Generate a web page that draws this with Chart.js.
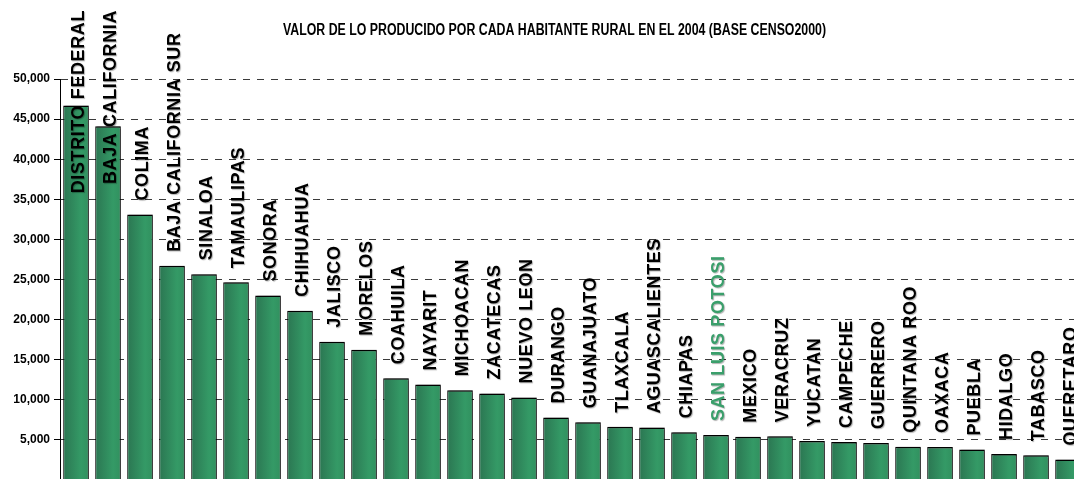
<!DOCTYPE html>
<html>
<head>
<meta charset="utf-8">
<script src="https://cdn.jsdelivr.net/npm/chart.js@4/dist/chart.umd.min.js"></script>
<style>
  html, body { margin: 0; padding: 0; background: #fff; overflow: hidden; }
  #wrap { width: 1090px; height: 500px; }
</style>
</head>
<body>
<div id="wrap"><canvas id="plot" width="1090" height="500"></canvas></div>
<script>
const chartTitle = 'VALOR DE LO PRODUCIDO POR CADA HABITANTE RURAL EN EL 2004 (BASE CENSO2000)';

const states = [
    'DISTRITO FEDERAL', 'BAJA CALIFORNIA', 'COLIMA', 'BAJA CALIFORNIA SUR', 'SINALOA',
    'TAMAULIPAS', 'SONORA', 'CHIHUAHUA', 'JALISCO', 'MORELOS', 'COAHUILA', 'NAYARIT',
    'MICHOACAN', 'ZACATECAS', 'NUEVO LEON', 'DURANGO', 'GUANAJUATO', 'TLAXCALA',
    'AGUASCALIENTES', 'CHIAPAS', 'SAN LUIS POTOSI', 'MEXICO', 'VERACRUZ', 'YUCATAN',
    'CAMPECHE', 'GUERRERO', 'QUINTANA ROO', 'OAXACA', 'PUEBLA', 'HIDALGO', 'TABASCO',
    'QUERETARO'
];

const valuePerHab = [
    46700, 44100, 33100, 26700, 25650,
    24650, 23000, 21100, 17250, 16250, 12700, 11900,
    11200, 10800, 10300, 7800, 7200, 6650,
    6550, 5950, 5600, 5400, 5450, 4850,
    4750, 4600, 4150, 4100, 3800, 3250, 3100,
    2550
];

const highlighted = 'SAN LUIS POTOSI';

const yMin = 0;
const yMax = 50000;
const yStep = 5000;

function barFill(c) {
    const chart = c.chart;
    const xs = chart.scales.x;
    if (!chart.chartArea || !xs || c.dataIndex === undefined) return '#2e8b57';
    const cx = xs.getPixelForValue(c.dataIndex);
    const half = (xs.width / states.length) * 0.4;
    const g = chart.ctx.createLinearGradient(cx - half, 0, cx + half, 0);
    g.addColorStop(0, '#2b7652');
    g.addColorStop(0.7, '#349a66');
    g.addColorStop(1, '#31905f');
    return g;
}

// drop shadow on the right side of each bar
const barShadow = {
    id: 'barShadow',
    beforeDatasetDraw(chart) {
        const ctx = chart.ctx;
        ctx.save();
        ctx.shadowColor = 'rgba(0,0,0,0.4)';
        ctx.shadowOffsetX = 2;
        ctx.shadowOffsetY = 0;
        ctx.shadowBlur = 1;
    },
    afterDatasetDraw(chart) {
        chart.ctx.restore();
    }
};

// state names standing vertically above each bar
const stateLabels = {
    id: 'stateLabels',
    afterDatasetsDraw(chart) {
        const ctx = chart.ctx;
        const meta = chart.getDatasetMeta(0);
        ctx.save();
        ctx.font = 'bold 18px "Liberation Sans", Arial, sans-serif';
        ctx.letterSpacing = '0.6px';
        ctx.textAlign = 'left';
        ctx.textBaseline = 'middle';
        ctx.shadowColor = 'rgba(0,0,0,0.3)';
        ctx.shadowOffsetX = 1;
        ctx.shadowOffsetY = 1;
        ctx.shadowBlur = 1;
        meta.data.forEach((bar, i) => {
            const name = states[i];
            const w = ctx.measureText(name).width;
            let start = bar.y - 14;
            if (start - w < 10) start = 10 + w;
            ctx.save();
            ctx.translate(bar.x + 3, start);
            ctx.rotate(-Math.PI / 2);
            ctx.fillStyle = name === highlighted ? '#3a9f6b' : '#000';
            ctx.fillText(name, 0, 0);
            ctx.restore();
        });
        ctx.restore();
    }
};

// narrow bold heading
const heading = {
    id: 'heading',
    afterDraw(chart) {
        const ctx = chart.ctx;
        ctx.save();
        ctx.font = 'bold 16px "Liberation Sans", Arial, sans-serif';
        const w = ctx.measureText(chartTitle).width;
        ctx.translate(554.5, 35);
        ctx.scale(543 / w, 1);
        ctx.textAlign = 'center';
        ctx.textBaseline = 'alphabetic';
        ctx.fillStyle = '#000';
        ctx.fillText(chartTitle, 0, 0);
        ctx.restore();
    }
};

const ctx = document.getElementById('plot').getContext('2d');
const chart = new Chart(ctx, {
    type: 'bar',
    data: {
        labels: states,
        datasets: [{
            data: valuePerHab,
            backgroundColor: barFill,
            borderColor: '#000',
            borderWidth: { top: 1.5, left: 1, right: 1, bottom: 0 },
            borderSkipped: false,
            categoryPercentage: 1,
            barPercentage: 0.8
        }]
    },
    options: {
        responsive: false,
        animation: false,
        layout: { padding: { top: 79, bottom: 20, left: 0, right: 6 } },
        plugins: {
            legend: { display: false },
            title: { display: false },
            tooltip: { enabled: false }
        },
        scales: {
            x: { display: false },
            y: {
                min: yMin,
                max: yMax,
                afterFit(scale) { scale.width = 60; },
                ticks: {
                    stepSize: yStep,
                    padding: 4,
                    color: '#000',
                    font: { family: '"Liberation Sans", Arial, sans-serif', size: 12, weight: 'bold' },
                    callback: v => v === 0 ? '' : v.toLocaleString('en-US')
                },
                grid: {
                    color: '#3a3a3a',
                    lineWidth: 1,
                    drawTicks: true,
                    tickLength: 6,
                    tickColor: '#000',
                    tickBorderDash: [1, 0]
                },
                border: { display: true, color: '#000', width: 1, dash: [7, 7] }
            }
        }
    },
    plugins: [barShadow, stateLabels, heading]
});
</script>
</body>
</html>
